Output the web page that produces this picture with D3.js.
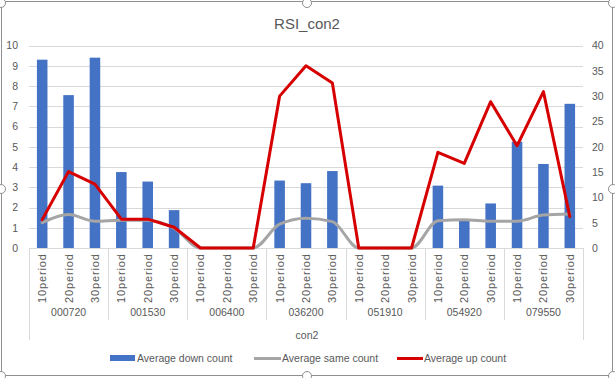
<!DOCTYPE html>
<html>
<head>
<meta charset="utf-8">
<script src="https://cdn.jsdelivr.net/npm/d3@7"></script>
<style>
  html, body { margin: 0; padding: 0; background: #fff; }
  svg { display: block; font-family: "Liberation Sans", Arial, sans-serif; }
</style>
</head>
<body>
<svg id="chart" width="615" height="378"></svg>
<script>
// ---- data ----
const groups = ["000720", "001530", "006400", "036200", "051910", "054920", "079550"];
const periods = ["10period", "20period", "30period"];
const downCount = [9.3, 7.55, 9.4, 3.75, 3.28, 1.87, 0, 0, 0, 3.33, 3.2, 3.8, 0, 0, 0, 3.08, 1.35, 2.2, 5.25, 4.15, 7.12];
const sameCount = [5.0, 6.6, 5.3, 5.5, 5.5, 3.9, 0, 0, 0, 4.7, 5.9, 5.2, 0, 0, 0, 5.4, 5.6, 5.3, 5.3, 6.5, 6.7];
const upCount = [5.6, 15.1, 12.6, 5.7, 5.7, 4.1, 0, 0, 0, 30, 36, 32.6, 0, 0, 0, 18.9, 16.7, 28.9, 20.2, 30.9, 6.2];
const leftTicks = [0, 1, 2, 3, 4, 5, 6, 7, 8, 9, 10];
const rightTicks = [0, 5, 10, 15, 20, 25, 30, 35, 40];
const titleText = "RSI_con2";
const axisTitle = "con2";
const seriesNames = ["Average down count", "Average same count", "Average up count"];

// ---- layout ----
const svg = d3.select("#chart");
const X0 = 29, X1 = 583, Y0 = 248, Y1 = 45.5;
const textColor = "#595959";
const colors = { down: "#4472C4", same: "#A5A5A5", up: "#D60000" };

const keys = [];
groups.forEach(g => periods.forEach(p => keys.push(g + "|" + p)));

const x = d3.scaleBand().domain(keys).range([X0, X1]).padding(0);
const xg = d3.scaleBand().domain(groups).range([X0, X1]).padding(0);
const yL = d3.scaleLinear().domain([0, 10]).range([Y0, Y1]);
const yR = d3.scaleLinear().domain([0, 40]).range([Y0, Y1]);
const barW = x.bandwidth() / 2.5;

// chart border & handles
svg.append("rect").attr("x", 1.5).attr("y", 1.5).attr("width", 611).attr("height", 374)
  .attr("fill", "none").attr("stroke", "#8f8f8f").attr("stroke-width", 1);
[[307, 3], [1, 189], [613, 189], [307, 376], [1, 3], [613, 3], [1, 376], [613, 376]].forEach(([cx, cy]) => {
  svg.append("circle").attr("cx", cx).attr("cy", cy).attr("r", 4.5)
    .attr("fill", "#fff").attr("stroke", "#8f8f8f").attr("stroke-width", 1);
});

// title
svg.append("text").attr("x", 307).attr("y", 29).attr("text-anchor", "middle")
  .attr("font-size", 15).attr("fill", textColor).text(titleText);

// gridlines
svg.append("g").selectAll("line").data(leftTicks.slice(1)).join("line")
  .attr("x1", X0).attr("x2", X1)
  .attr("y1", d => Math.round(yL(d)) + 0.5).attr("y2", d => Math.round(yL(d)) + 0.5)
  .attr("stroke", "#D9D9D9").attr("stroke-width", 1);

// left axis
const axL = svg.append("g").attr("transform", `translate(${X0},0)`)
  .call(d3.axisLeft(yL).tickValues(leftTicks).tickSize(0).tickPadding(11).tickFormat(d3.format("d")));
axL.select(".domain").remove();
axL.selectAll("text").attr("font-size", 10.5).attr("fill", textColor).attr("font-family", "Liberation Sans, Arial, sans-serif");

// right axis
const axR = svg.append("g").attr("transform", `translate(${X1},0)`)
  .call(d3.axisRight(yR).tickValues(rightTicks).tickSize(0).tickPadding(9).tickFormat(d3.format("d")));
axR.select(".domain").remove();
axR.selectAll("text").attr("font-size", 10.5).attr("fill", textColor).attr("font-family", "Liberation Sans, Arial, sans-serif");

// bars
svg.append("g").selectAll("rect").data(downCount).join("rect")
  .attr("x", (d, i) => x(keys[i]) + (x.bandwidth() - barW) / 2)
  .attr("width", barW)
  .attr("y", d => yL(d))
  .attr("height", d => Y0 - yL(d))
  .attr("fill", colors.down);

// x axis baseline and group separators
svg.append("line").attr("x1", X0).attr("x2", X1).attr("y1", Y0 + 0.5).attr("y2", Y0 + 0.5)
  .attr("stroke", "#D9D9D9");
const seps = groups.slice(1).map(g => xg(g));
svg.append("g").selectAll("line").data(seps).join("line")
  .attr("x1", d => Math.round(d) + 0.5).attr("x2", d => Math.round(d) + 0.5)
  .attr("y1", Y0).attr("y2", 320).attr("stroke", "#D9D9D9");
[X0, X1].forEach(xx => {
  svg.append("line").attr("x1", xx + 0.5).attr("x2", xx + 0.5).attr("y1", Y0).attr("y2", 340)
    .attr("stroke", "#D9D9D9");
});

// period labels (rotated)
svg.append("g").selectAll("text").data(keys).join("text")
  .attr("transform", d => `translate(${x(d) + x.bandwidth() / 2 + 4},254) rotate(-90)`)
  .attr("text-anchor", "end").attr("font-size", 11).attr("fill", textColor)
  .attr("textLength", 49).attr("lengthAdjust", "spacing")
  .text(d => d.split("|")[1]);

// group labels
svg.append("g").selectAll("text").data(groups).join("text")
  .attr("x", d => xg(d) + xg.bandwidth() / 2).attr("y", 316)
  .attr("text-anchor", "middle").attr("font-size", 10.5).attr("fill", textColor)
  .text(d => d);

// axis title
svg.append("text").attr("x", 307).attr("y", 339).attr("text-anchor", "middle")
  .attr("font-size", 10.5).attr("fill", textColor).text(axisTitle);

// lines
const cx = i => x(keys[i]) + x.bandwidth() / 2;
const lineSame = d3.line().x((d, i) => cx(i)).y(d => yR(d)).curve(d3.curveMonotoneX);
const lineUp = d3.line().x((d, i) => cx(i)).y(d => yR(d));
svg.append("path").datum(sameCount).attr("d", lineSame)
  .attr("fill", "none").attr("stroke", colors.same).attr("stroke-width", 3)
  .attr("stroke-linejoin", "round").attr("stroke-linecap", "round");
svg.append("path").datum(upCount).attr("d", lineUp)
  .attr("fill", "none").attr("stroke", colors.up).attr("stroke-width", 3)
  .attr("stroke-linejoin", "round").attr("stroke-linecap", "round");

// legend
const lg = svg.append("g").attr("font-size", 10.5).attr("fill", textColor);
lg.append("rect").attr("x", 110).attr("y", 355).attr("width", 25).attr("height", 6).attr("fill", colors.down);
lg.append("text").attr("x", 137).attr("y", 362).text(seriesNames[0]);
lg.append("line").attr("x1", 254).attr("x2", 281).attr("y1", 358.5).attr("y2", 358.5)
  .attr("stroke", colors.same).attr("stroke-width", 3);
lg.append("text").attr("x", 282).attr("y", 362).text(seriesNames[1]);
lg.append("line").attr("x1", 397).attr("x2", 423).attr("y1", 358.5).attr("y2", 358.5)
  .attr("stroke", colors.up).attr("stroke-width", 3);
lg.append("text").attr("x", 424).attr("y", 362).text(seriesNames[2]);
</script>
</body>
</html>
